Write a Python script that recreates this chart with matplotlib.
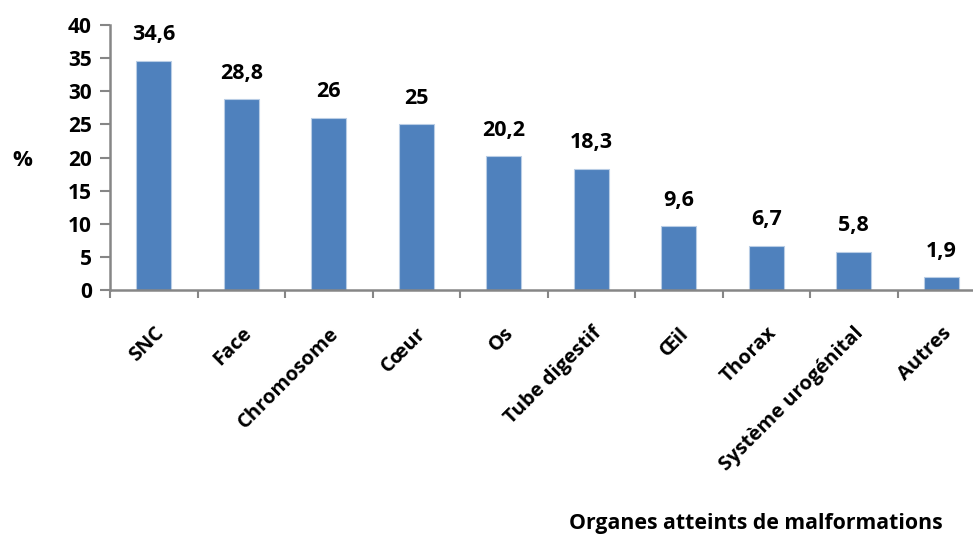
import matplotlib
matplotlib.use("Agg")
from matplotlib import pyplot as plt

categories = ["SNC", "Face", "Chromosome", "Cœur", "Os", "Tube digestif",
              "Œil", "Thorax", "Système urogénital", "Autres"]
values = [34.6, 28.8, 26, 25, 20.2, 18.3, 9.6, 6.7, 5.8, 1.9]
value_labels = ["34,6", "28,8", "26", "25", "20,2", "18,3", "9,6", "6,7", "5,8", "1,9"]
yticks = [0, 5, 10, 15, 20, 25, 30, 35, 40]

plt.rcParams['font.family'] = ['Open Sans', 'DejaVu Sans']
plt.rcParams['font.weight'] = 'bold'

fig = plt.figure(figsize=(9.73, 5.38), dpi=100)
ax = fig.add_axes([110 / 973, 1 - 290 / 538, 875 / 973, 265 / 538])

x = list(range(len(categories)))
ax.bar(x, values, width=0.4, color="#4F81BD", edgecolor="#B9CDE5", linewidth=0.8)

for xi, v, lab in zip(x, values, value_labels):
    ax.text(xi, v + 3.9, lab, ha='center', va='center', fontsize=15.5, fontweight='bold',
            clip_on=False)

ax.set_xlim(-0.5, len(categories) - 0.5)
ax.set_ylim(0, 40)
ax.set_yticks(yticks)
ax.set_yticklabels([str(t) for t in yticks], fontsize=15, fontweight='bold')

# category boundaries carry the tick marks, labels sit under the bars
ax.set_xticks([i - 0.5 for i in range(len(categories) + 1)])
ax.set_xticklabels([])
ax.set_xticks(x, minor=True)
ax.set_xticklabels(categories, minor=True, rotation=45, ha='right',
                   rotation_mode='anchor', fontsize=14.5, fontweight='bold')
ax.tick_params(axis='x', which='minor', length=0, pad=24)
ax.tick_params(axis='x', which='major', length=6, width=1.5, color="#868686", direction='out')
ax.tick_params(axis='y', length=7, width=1.5, color="#868686", direction='out', pad=6)

for s in ['top', 'right']:
    ax.spines[s].set_visible(False)
for s in ['left', 'bottom']:
    ax.spines[s].set_color("#868686")
    ax.spines[s].set_linewidth(1.8)

fig.text(22 / 973, 1 - 160 / 538, "%", ha='center', va='center', fontsize=16, fontweight='bold')
fig.text(943 / 973, 1 - 523 / 538, "Organes atteints de malformations", ha='right', va='center',
         fontsize=15.3, fontweight='bold')

fig.savefig("out.png", dpi=100)
